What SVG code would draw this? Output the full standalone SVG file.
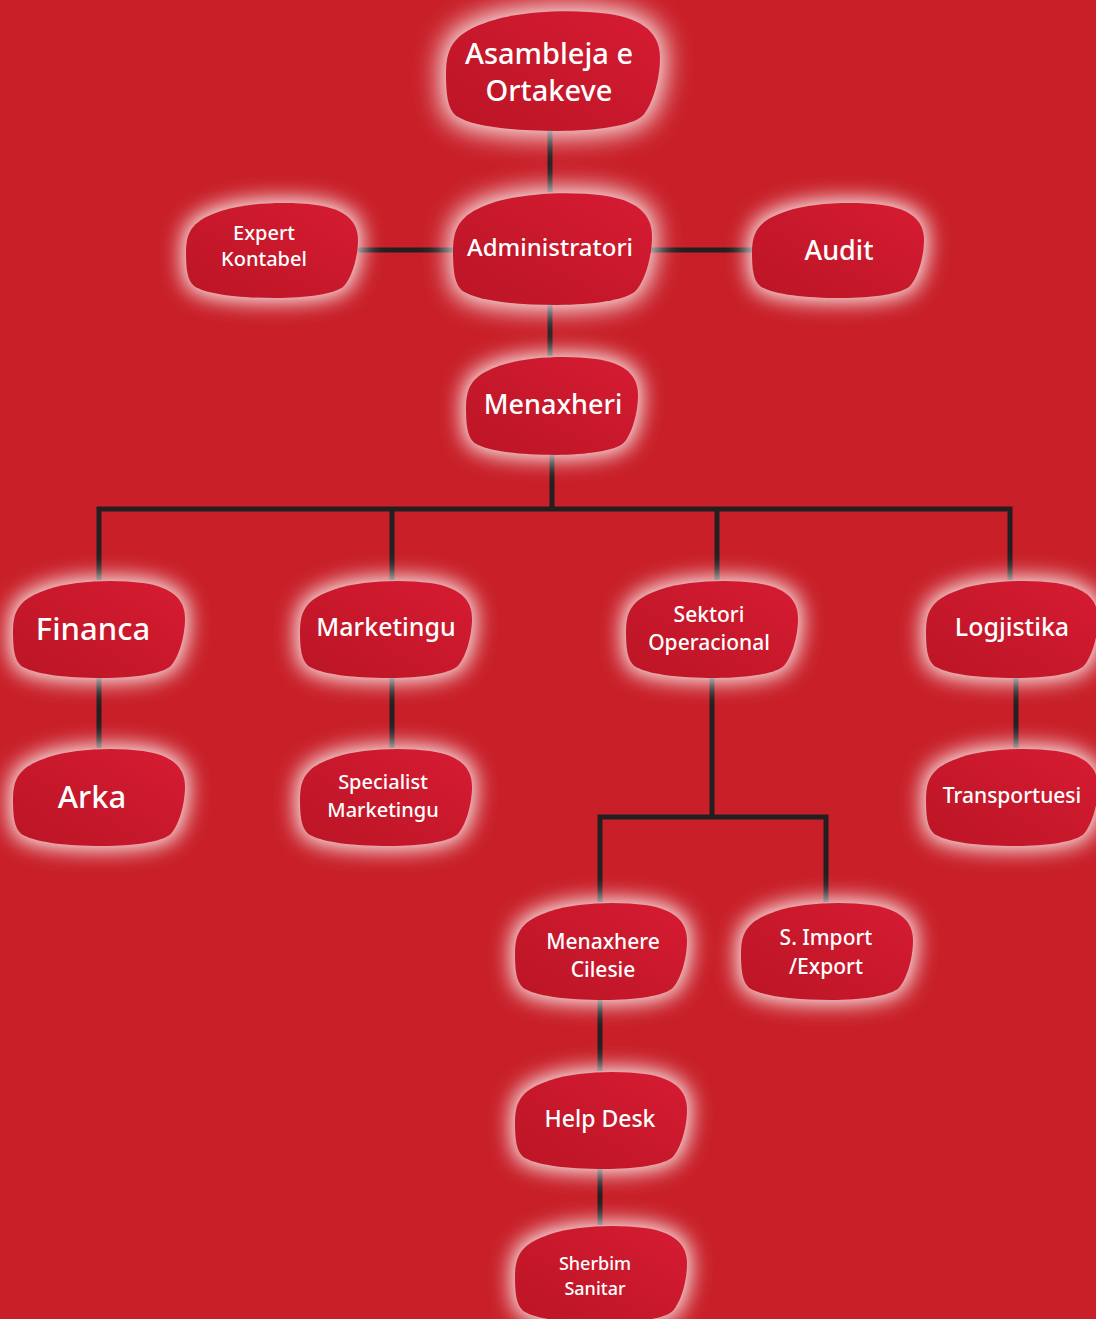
<svg xmlns="http://www.w3.org/2000/svg" width="1096" height="1319" viewBox="0 0 1096 1319">
<defs>
<linearGradient id="nf" x1="0" y1="1" x2="1" y2="0">
<stop offset="0" stop-color="#bb1526"/>
<stop offset="1" stop-color="#d61b32"/>
</linearGradient>
<path id="blob" d="M0,50 C0,28 8,18 35,9 C60,1 100,-1 130,3 C158,7 172,18 172,38 C172,55 166,75 158,84 C150,92 120,96 90,96 C50,96 20,92 8,84 C1,78 0,66 0,50 Z"/>
<filter id="glow" x="-40%" y="-60%" width="180%" height="220%">
<feMorphology in="SourceAlpha" operator="dilate" radius="3" result="d"/>
<feGaussianBlur in="d" stdDeviation="11" result="b"/>
<feFlood flood-color="#ffffff" flood-opacity="1"/>
<feComposite in2="b" operator="in"/>
</filter>
<g id="node">
<use href="#blob" filter="url(#glow)"/>
<use href="#blob" fill="url(#nf)"/>
</g>
</defs>
<style>
text{font-family:"Noto Sans","Open Sans","DejaVu Sans",sans-serif;font-weight:500;fill:#ffffff;text-anchor:middle}
.ln{stroke:#231f20;stroke-width:5;fill:none}
</style>
<rect width="1096" height="1319" fill="#c81f28"/>
<g id="connectors">
<path class="ln" d="M550,131 V192"/>
<path class="ln" d="M358,250 H752"/>
<path class="ln" d="M550,305 V356"/>
<path class="ln" d="M552,455 V509"/>
<path class="ln" d="M99,580 V509 H1010 V580"/>
<path class="ln" d="M392,509 V580"/>
<path class="ln" d="M717,509 V580"/>
<path class="ln" d="M99,678 V748"/>
<path class="ln" d="M392,678 V748"/>
<path class="ln" d="M1016,678 V748"/>
<path class="ln" d="M712,678 V817"/>
<path class="ln" d="M600,902 V817 H826 V902"/>
<path class="ln" d="M600,1000 V1071"/>
<path class="ln" d="M600,1169 V1225"/>
</g>
<g id="n-asambleja"><use href="#node" transform="translate(446,10) scale(1.244,1.26)"/><text x="549" y="64" font-size="29">Asambleja e</text><text x="549" y="101" font-size="29">Ortakeve</text></g>
<g id="n-admin"><use href="#node" transform="translate(453,192) scale(1.157,1.177)"/><text x="550" y="256" font-size="24">Administratori</text></g>
<g id="n-expert"><use href="#node" transform="translate(186,202)"/><text x="264" y="240" font-size="20">Expert</text><text x="264" y="266" font-size="20">Kontabel</text></g>
<g id="n-audit"><use href="#node" transform="translate(752,202)"/><text x="839" y="260" font-size="27">Audit</text></g>
<g id="n-menaxheri"><use href="#node" transform="translate(466,356) scale(1,1.03)"/><text x="553" y="414" font-size="27">Menaxheri</text></g>
<g id="n-financa"><use href="#node" transform="translate(13,580) scale(1,1.02)"/><text x="93" y="640" font-size="31">Financa</text></g>
<g id="n-marketingu"><use href="#node" transform="translate(300,580) scale(1,1.02)"/><text x="386" y="636" font-size="25">Marketingu</text></g>
<g id="n-sektori"><use href="#node" transform="translate(626,580) scale(1,1.02)"/><text x="709" y="622" font-size="21">Sektori</text><text x="709" y="650" font-size="21">Operacional</text></g>
<g id="n-logjistika"><use href="#node" transform="translate(926,580) scale(1,1.02)"/><text x="1012" y="636" font-size="25">Logjistika</text></g>
<g id="n-arka"><use href="#node" transform="translate(13,748) scale(1,1.02)"/><text x="92" y="808" font-size="31">Arka</text></g>
<g id="n-specialist"><use href="#node" transform="translate(300,748) scale(1,1.02)"/><text x="383" y="789" font-size="20">Specialist</text><text x="383" y="817" font-size="20">Marketingu</text></g>
<g id="n-transportuesi"><use href="#node" transform="translate(926,748) scale(1,1.02)"/><text x="1012" y="803" font-size="21">Transportuesi</text></g>
<g id="n-cilesie"><use href="#node" transform="translate(515,902) scale(1,1.02)"/><text x="603" y="949" font-size="21">Menaxhere</text><text x="603" y="977" font-size="21">Cilesie</text></g>
<g id="n-import"><use href="#node" transform="translate(741,902) scale(1,1.02)"/><text x="826" y="945" font-size="21">S. Import</text><text x="826" y="974" font-size="21">/Export</text></g>
<g id="n-helpdesk"><use href="#node" transform="translate(515,1071) scale(1,1.02)"/><text x="600" y="1127" font-size="23">Help Desk</text></g>
<g id="n-sherbim"><use href="#node" transform="translate(515,1225) scale(1,1.02)"/><text x="595" y="1270" font-size="18">Sherbim</text><text x="595" y="1295" font-size="18">Sanitar</text></g>
</svg>
